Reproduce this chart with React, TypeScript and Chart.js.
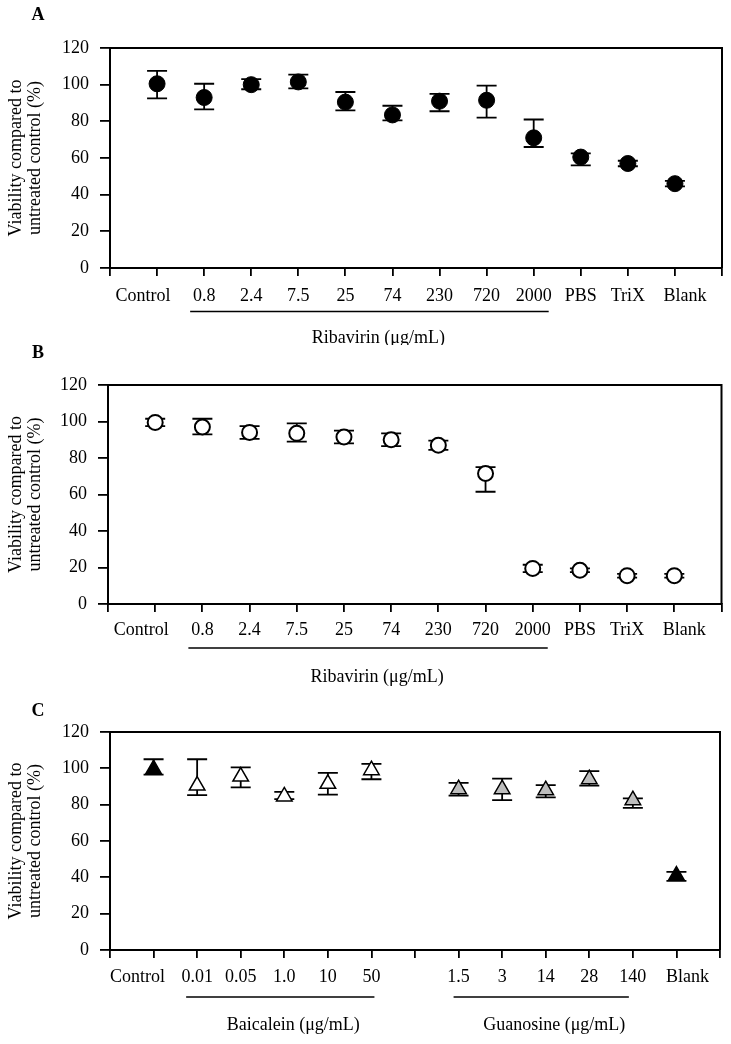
import React, { useEffect, useRef } from 'react';
import { Chart, registerables } from 'chart.js';

Chart.register(...registerables);

// ---------- data ----------
const yTickValues = [0, 20, 40, 60, 80, 100, 120];
const yTitleLines = ['Viability compared to', 'untreated control (%)'];

const catsA = ['Control', '0.8', '2.4', '7.5', '25', '74', '230', '720', '2000', 'PBS', 'TriX', 'Blank'];
const valuesA = [100.5, 93, 100, 101.5, 90.5, 83.5, 91, 91.5, 71, 60.5, 57, 46];
const errUpA = [7, 7.5, 3, 4, 5.5, 5, 4, 8, 10, 2, 1.5, 1.5];
const errDownA = [8, 6.5, 2.5, 3.5, 4.5, 3, 5.5, 9.5, 5, 4.5, 1.5, 1.5];
const groupsA = [{ label: 'Ribavirin (μg/mL)', first: '0.8', last: '2000' }];

const catsB = ['Control', '0.8', '2.4', '7.5', '25', '74', '230', '720', '2000', 'PBS', 'TriX', 'Blank'];
const valuesB = [99.5, 97, 94, 93.5, 91.5, 90, 87, 71.5, 19.5, 18.5, 15.5, 15.5];
const errUpB = [2, 4.5, 3.5, 5.5, 3.5, 3.5, 2.5, 3.5, 2, 1, 1, 1];
const errDownB = [2, 4, 3.5, 4.5, 3.5, 3.5, 2.5, 10, 2, 1, 1, 1];
const groupsB = [{ label: 'Ribavirin (μg/mL)', first: '0.8', last: '2000' }];

const catsC = ['Control', '0.01', '0.05', '1.0', '10', '50', '', '1.5', '3', '14', '28', '140', 'Blank'];
const valuesC = [99.5, 90.5, 95.5, 84.5, 91.5, 99, null, 88.5, 88.5, 88, 94, 82.5, 41];
const errUpC = [5.5, 14.5, 5, 2.5, 6, 3.5, null, 3.5, 5.8, 2.8, 4.5, 1, 2];
const errDownC = [3, 5.3, 6, 1.5, 6, 5, null, 3.5, 6, 4, 3.5, 4.3, 3];
const groupsC = [
  { label: 'Baicalein (μg/mL)', first: '0.01', last: '50' },
  { label: 'Guanosine (μg/mL)', first: '1.5', last: '140' },
];

// ---------- style ----------
const FONT = "'Liberation Serif', 'Times New Roman', serif";
const W = 731;

type Group = { label: string; first: string; last: string };
type Spec = {
  letter: string;
  cats: string[];
  values: (number | null)[];
  up: (number | null)[];
  down: (number | null)[];
  groups: Group[];
  style: any;
};

const specs: Spec[] = [
  {
    letter: 'A', cats: catsA, values: valuesA, up: errUpA, down: errDownA, groups: groupsA,
    style: {
      top: 0, height: 345, left: 110, right: 726, areaTop: 48, areaBottom: 268,
      labelPad: 9, lineDy: 43.5, titleDy: 70, letterY: 15, ext: [[14, 15]], titleDx: 9,
      shiftFirst: -14, shiftLast: 10, shape: 'circle', radius: 8, borderW: 1,
      fill: () => '#000',
    },
  },
  {
    letter: 'B', cats: catsB, values: valuesB, up: errUpB, down: errDownB, groups: groupsB,
    style: {
      top: 345, height: 345, left: 108, right: 723, areaTop: 40, areaBottom: 259,
      labelPad: 7, lineDy: 44, titleDy: 73, letterY: 8, ext: [[14, 15]], titleDx: 9,
      shiftFirst: -14, shiftLast: 10, shape: 'circle', radius: 7.5, borderW: 2,
      fill: () => '#fff',
    },
  },
  {
    letter: 'C', cats: catsC, values: valuesC, up: errUpC, down: errDownC, groups: groupsC,
    style: {
      top: 690, height: 354, left: 110, right: 720, areaTop: 42, areaBottom: 260,
      labelPad: 8, lineDy: 47, titleDy: 75, letterY: 21, ext: [[11, 3], [5, -4]], titleDx: 13,
      shiftFirst: -16, shiftLast: 11, shape: 'triangle', radius: 9, borderW: 1.5,
      fill: (cat: string) => {
        const i = catsC.indexOf(cat);
        const inGroup = (g: Group) => i >= catsC.indexOf(g.first) && i <= catsC.indexOf(g.last);
        if (inGroup(groupsC[0])) return '#ffffff';
        if (inGroup(groupsC[1])) return '#bdbdbd';
        return '#000000';
      },
    },
  },
];

function buildChart(canvas: HTMLCanvasElement, spec: Spec) {
  const st = spec.style;
  const labels = ['', ...spec.cats, ''];
  const data = [null, ...spec.values, null];
  const up = [null, ...spec.up, null];
  const down = [null, ...spec.down, null];
  const fills = labels.map((c) => st.fill(c));
  const X_H = 40;

  const deco = {
    id: 'deco' + spec.letter,
    beforeDraw(chart: any) {
      const xs = chart.scales.x;
      const items = xs.getLabelItems();
      const first = items[1];
      const last = items[items.length - 2];
      if (first && !first._shifted) { first.options.translation[0] += st.shiftFirst; first._shifted = true; }
      if (last && !last._shifted) { last.options.translation[0] += st.shiftLast; last._shifted = true; }
    },
    beforeDatasetsDraw(chart: any) {
      const ctx = chart.ctx;
      const ys = chart.scales.y;
      const meta = chart.getDatasetMeta(0);
      ctx.save();
      ctx.strokeStyle = '#000';
      ctx.lineWidth = 1.8;
      data.forEach((v, i) => {
        if (v == null) return;
        const x = meta.data[i].x;
        const yt = ys.getPixelForValue(v + (up[i] as number));
        const yb = ys.getPixelForValue(v - (down[i] as number));
        ctx.beginPath();
        ctx.moveTo(x, yt); ctx.lineTo(x, yb);
        ctx.moveTo(x - 10, yt); ctx.lineTo(x + 10, yt);
        ctx.moveTo(x - 10, yb); ctx.lineTo(x + 10, yb);
        ctx.stroke();
      });
      ctx.restore();
    },
    afterDraw(chart: any) {
      const ctx = chart.ctx;
      const a = chart.chartArea;
      const xs = chart.scales.x;
      ctx.save();
      ctx.strokeStyle = '#000';
      ctx.lineWidth = 2;
      ctx.beginPath();
      ctx.moveTo(a.left, a.top); ctx.lineTo(a.right, a.top); ctx.lineTo(a.right, a.bottom);
      ctx.stroke();
      ctx.fillStyle = '#000';
      ctx.font = `18px ${FONT}`;
      ctx.textAlign = 'center';
      ctx.textBaseline = 'middle';
      spec.groups.forEach((g, gi) => {
        const e = st.ext[gi];
        const x1 = xs.getPixelForValue(labels.indexOf(g.first)) - e[0];
        const x2 = xs.getPixelForValue(labels.indexOf(g.last)) + e[1];
        const y = a.bottom + st.lineDy;
        ctx.lineWidth = 1.5;
        ctx.beginPath(); ctx.moveTo(x1, y); ctx.lineTo(x2, y); ctx.stroke();
        ctx.fillText(g.label, (x1 + x2) / 2 + st.titleDx, a.bottom + st.titleDy);
      });
      ctx.font = `bold 18px ${FONT}`;
      ctx.fillText(spec.letter, 38, st.letterY);
      ctx.restore();
    },
  };

  return new Chart(canvas, {
    type: 'line',
    data: {
      labels,
      datasets: [{
        data,
        showLine: false,
        pointStyle: st.shape,
        pointRadius: st.radius,
        pointBackgroundColor: fills,
        pointBorderColor: '#000',
        pointBorderWidth: st.borderW,
      }],
    },
    options: {
      responsive: false,
      maintainAspectRatio: false,
      animation: false,
      events: [],
      layout: {
        padding: { left: 0, top: st.areaTop, right: W - st.right, bottom: st.height - st.areaBottom - X_H },
      },
      plugins: { legend: { display: false }, tooltip: { enabled: false }, title: { display: false } },
      scales: {
        x: {
          type: 'category',
          offset: false,
          grid: { display: true, drawOnChartArea: false, drawTicks: true, tickLength: 8, color: '#000', lineWidth: 1.8, offset: false },
          border: { display: true, color: '#000', width: 2 },
          ticks: { autoSkip: false, maxRotation: 0, minRotation: 0, padding: st.labelPad, color: '#000', font: { family: FONT, size: 18 } },
          afterFit: (s: any) => { s.height = X_H; },
        },
        y: {
          type: 'linear',
          min: yTickValues[0],
          max: yTickValues[yTickValues.length - 1],
          grid: { display: true, drawOnChartArea: false, drawTicks: true, tickLength: 10, color: '#000', lineWidth: 1.8 },
          border: { display: true, color: '#000', width: 2 },
          ticks: { stepSize: yTickValues[1] - yTickValues[0], padding: 11, color: '#000', font: { family: FONT, size: 18 } },
          title: {
            display: true, text: yTitleLines, color: '#000',
            font: { family: FONT, size: 18, lineHeight: 1.1 }, padding: { top: 6, bottom: 0 },
          },
          afterFit: (s: any) => { s.width = st.left; },
        },
      },
    } as any,
    plugins: [deco],
  });
}

function Panel({ spec }: { spec: Spec }) {
  const ref = useRef<HTMLCanvasElement>(null);
  useEffect(() => {
    const chart = buildChart(ref.current as HTMLCanvasElement, spec);
    return () => chart.destroy();
  }, []);
  return (
    <canvas
      ref={ref}
      width={W}
      height={spec.style.height}
      style={{ position: 'absolute', left: 0, top: spec.style.top, width: W, height: spec.style.height, display: 'block' }}
    />
  );
}

export default function App() {
  return (
    <div style={{ position: 'absolute', left: 0, top: 0, width: W, height: 1044, background: '#fff' }}>
      {specs.map((s) => <Panel key={s.letter} spec={s} />)}
    </div>
  );
}
